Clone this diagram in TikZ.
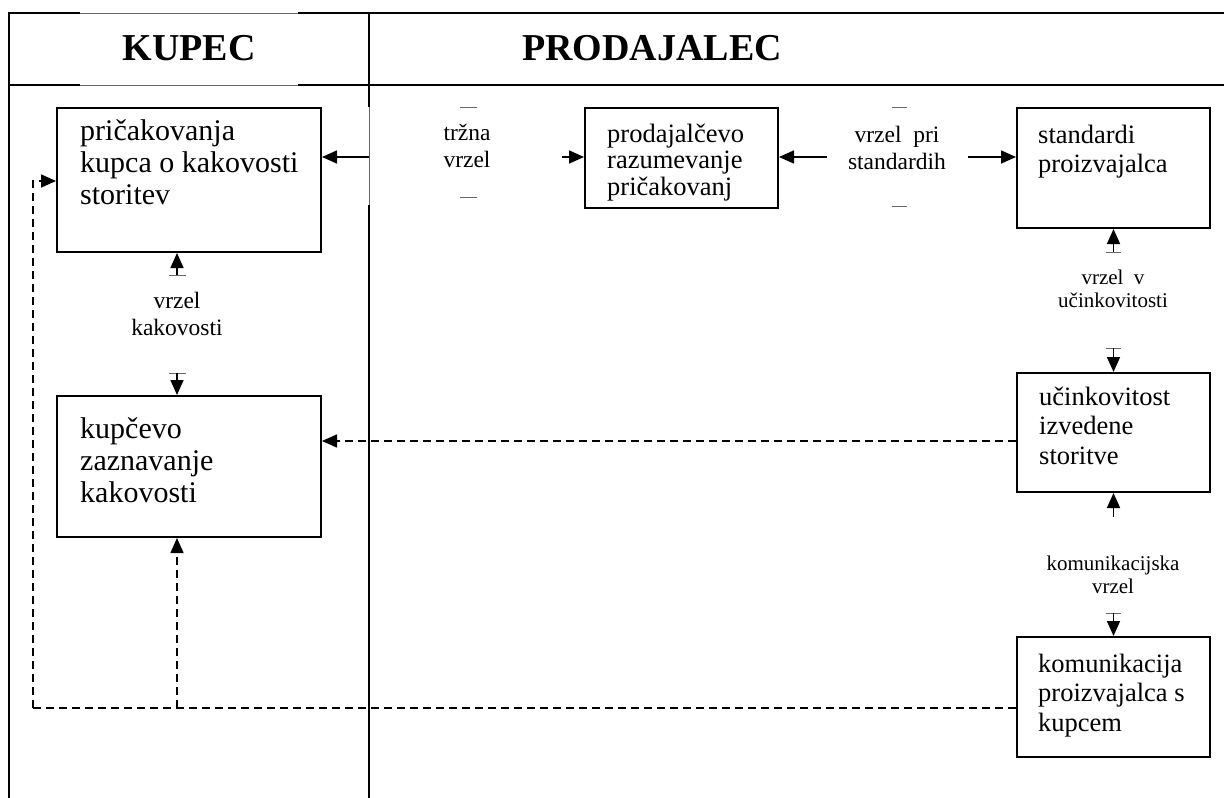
\documentclass[tikz,border=0pt]{standalone}
\usepackage{fontspec}
\setmainfont{Liberation Serif}
\usetikzlibrary{arrows.meta}
\begin{document}
\begin{tikzpicture}[x=1pt,y=-1pt,
  frame/.style={line width=2pt},
  faint/.style={draw=black!60,line width=0.8pt},
  box/.style={draw,line width=2pt,inner sep=0pt},
  gaparrow/.style={line width=1.6pt,-{Triangle[length=15pt,width=13pt]}},
  feed/.style={line width=1.6pt,dash pattern=on 8pt off 5pt},
  feedarrow/.style={feed,-{Triangle[length=15pt,width=13pt]}},
  head/.style={font=\fontsize{38}{40}\selectfont\bfseries,anchor=base,inner sep=0pt},
  bigtxt/.style={anchor=base west,inner sep=0pt,font=\fontsize{30}{32}\selectfont},
  boxtxt/.style={anchor=base west,inner sep=0pt,font=\fontsize{26.5}{29.5}\selectfont},
  gaptxt/.style={anchor=base,inner sep=0pt,font=\fontsize{23.5}{27}\selectfont},
  smalltxt/.style={anchor=base,inner sep=0pt,font=\fontsize{21}{23.5}\selectfont}
]
\useasboundingbox (0,0) rectangle (1224,798);

% ---- swim-lane frame ----
\draw[frame] (9,798) -- (9,13) -- (80,13);
\draw[faint] (80,13) -- (298,13);
\draw[frame] (298,13) -- (1224,13);
\draw[frame] (9,85) -- (80,85);
\draw[faint] (80,85) -- (298,85);
\draw[frame] (298,85) -- (1224,85);
\draw[frame] (369,13) -- (369,107);
\draw[faint] (369,107) -- (369,205);
\draw[frame] (369,205) -- (369,798);

\node[head] (kupec) at (189,60) {KUPEC};
\node[head] (prodajalec) at (652,60) {PRODAJALEC};

% ---- boxes ----
\node[box,minimum width=264pt,minimum height=144pt] (A) at (189,180) {};
\node[box,minimum width=264pt,minimum height=141pt] (B) at (189,466.5) {};
\node[box,minimum width=193pt,minimum height=100pt] (C) at (681.5,158) {};
\node[box,minimum width=193pt,minimum height=120pt] (D) at (1113.5,168) {};
\node[box,minimum width=193pt,minimum height=119pt] (E) at (1113.5,432.5) {};
\node[box,minimum width=193pt,minimum height=120pt] (F) at (1113.5,697) {};

\node[bigtxt] (tA) at (80,140) {\begin{tabular}[t]{@{}l@{}}pričakovanja\\kupca o kakovosti\\storitev\end{tabular}};
\node[bigtxt] (tB) at (80,438) {\begin{tabular}[t]{@{}l@{}}kupčevo\\zaznavanje\\kakovosti\end{tabular}};
\node[boxtxt,font=\fontsize{26.5}{26.5}\selectfont] (tC) at (607,142) {\begin{tabular}[t]{@{}l@{}}prodajalčevo\\razumevanje\\pričakovanj\end{tabular}};
\node[boxtxt] (tD) at (1038,143) {\begin{tabular}[t]{@{}l@{}}standardi\\proizvajalca\end{tabular}};
\node[boxtxt] (tE) at (1039,405) {\begin{tabular}[t]{@{}l@{}}učinkovitost\\izvedene\\storitve\end{tabular}};
\node[boxtxt] (tF) at (1038,672) {\begin{tabular}[t]{@{}l@{}}komunikacija\\proizvajalca s\\kupcem\end{tabular}};

% ---- gap labels ----
\node[gaptxt] (g1) at (467,140) {\begin{tabular}[t]{@{}c@{}}tržna\\vrzel\end{tabular}};
\node[gaptxt] (g2) at (897,142) {\begin{tabular}[t]{@{}c@{}}vrzel~ pri\\standardih\end{tabular}};
\node[smalltxt] (g3) at (1113,284) {\begin{tabular}[t]{@{}c@{}}vrzel~ v\\učinkovitosti\end{tabular}};
\node[smalltxt] (g4) at (1113,570) {\begin{tabular}[t]{@{}c@{}}komunikacijska\\vrzel\end{tabular}};
\node[gaptxt] (g5) at (177,308) {\begin{tabular}[t]{@{}c@{}}vrzel\\kakovosti\end{tabular}};

% faint edges of the label frames
\draw[faint] (460,107) -- (477,107);
\draw[faint] (460,197) -- (477,197);
\draw[faint] (892,107) -- (907,107);
\draw[faint] (892,206) -- (907,206);
\draw[faint] (1106,252) -- (1121,252);
\draw[faint] (1106,348) -- (1121,348);
\draw[faint] (1106,613) -- (1121,613);
\draw[faint] (169,275) -- (186,275);
\draw[faint] (169,373) -- (186,373);

% ---- arrow tails ----
\coordinate (a1) at (369,157);
\coordinate (a2) at (562,157);
\coordinate (a3) at (827,157);
\coordinate (a4) at (968,157);
\coordinate (a5) at (1113.5,252);
\coordinate (a6) at (1113.5,348);
\coordinate (a7) at (1113.5,517);
\coordinate (a8) at (1113.5,613);
\coordinate (a9) at (177,275);
\coordinate (a10) at (177,373);

\draw[gaparrow] (a1) -- (A.east |- a1);
\draw[gaparrow] (a2) -- (C.west |- a2);
\draw[gaparrow] (a3) -- (C.east |- a3);
\draw[gaparrow] (a4) -- (D.west |- a4);
\draw[gaparrow] (a5) -- (D.south);
\draw[gaparrow] (a6) -- (E.north);
\draw[gaparrow] (a7) -- (E.south);
\draw[gaparrow] (a8) -- (F.north);
\draw[gaparrow] (a9) -- (A.south -| a9);
\draw[gaparrow] (a10) -- (B.north -| a10);

% ---- feedback paths ----
\coordinate (yE) at (0,441);
\coordinate (yF) at (0,708);
\coordinate (c1) at (33,708);
\coordinate (c2) at (33,181);
\coordinate (c3) at (177,708);
\draw[feedarrow] (E.west |- yE) -- (B.east |- yE);
\draw[feed] (F.west |- yF) -- (c1);
\draw[feedarrow] (c1) -- (c2) -- (A.west |- c2);
\draw[feedarrow] (c3) -- (B.south -| c3);
\end{tikzpicture}
\end{document}
